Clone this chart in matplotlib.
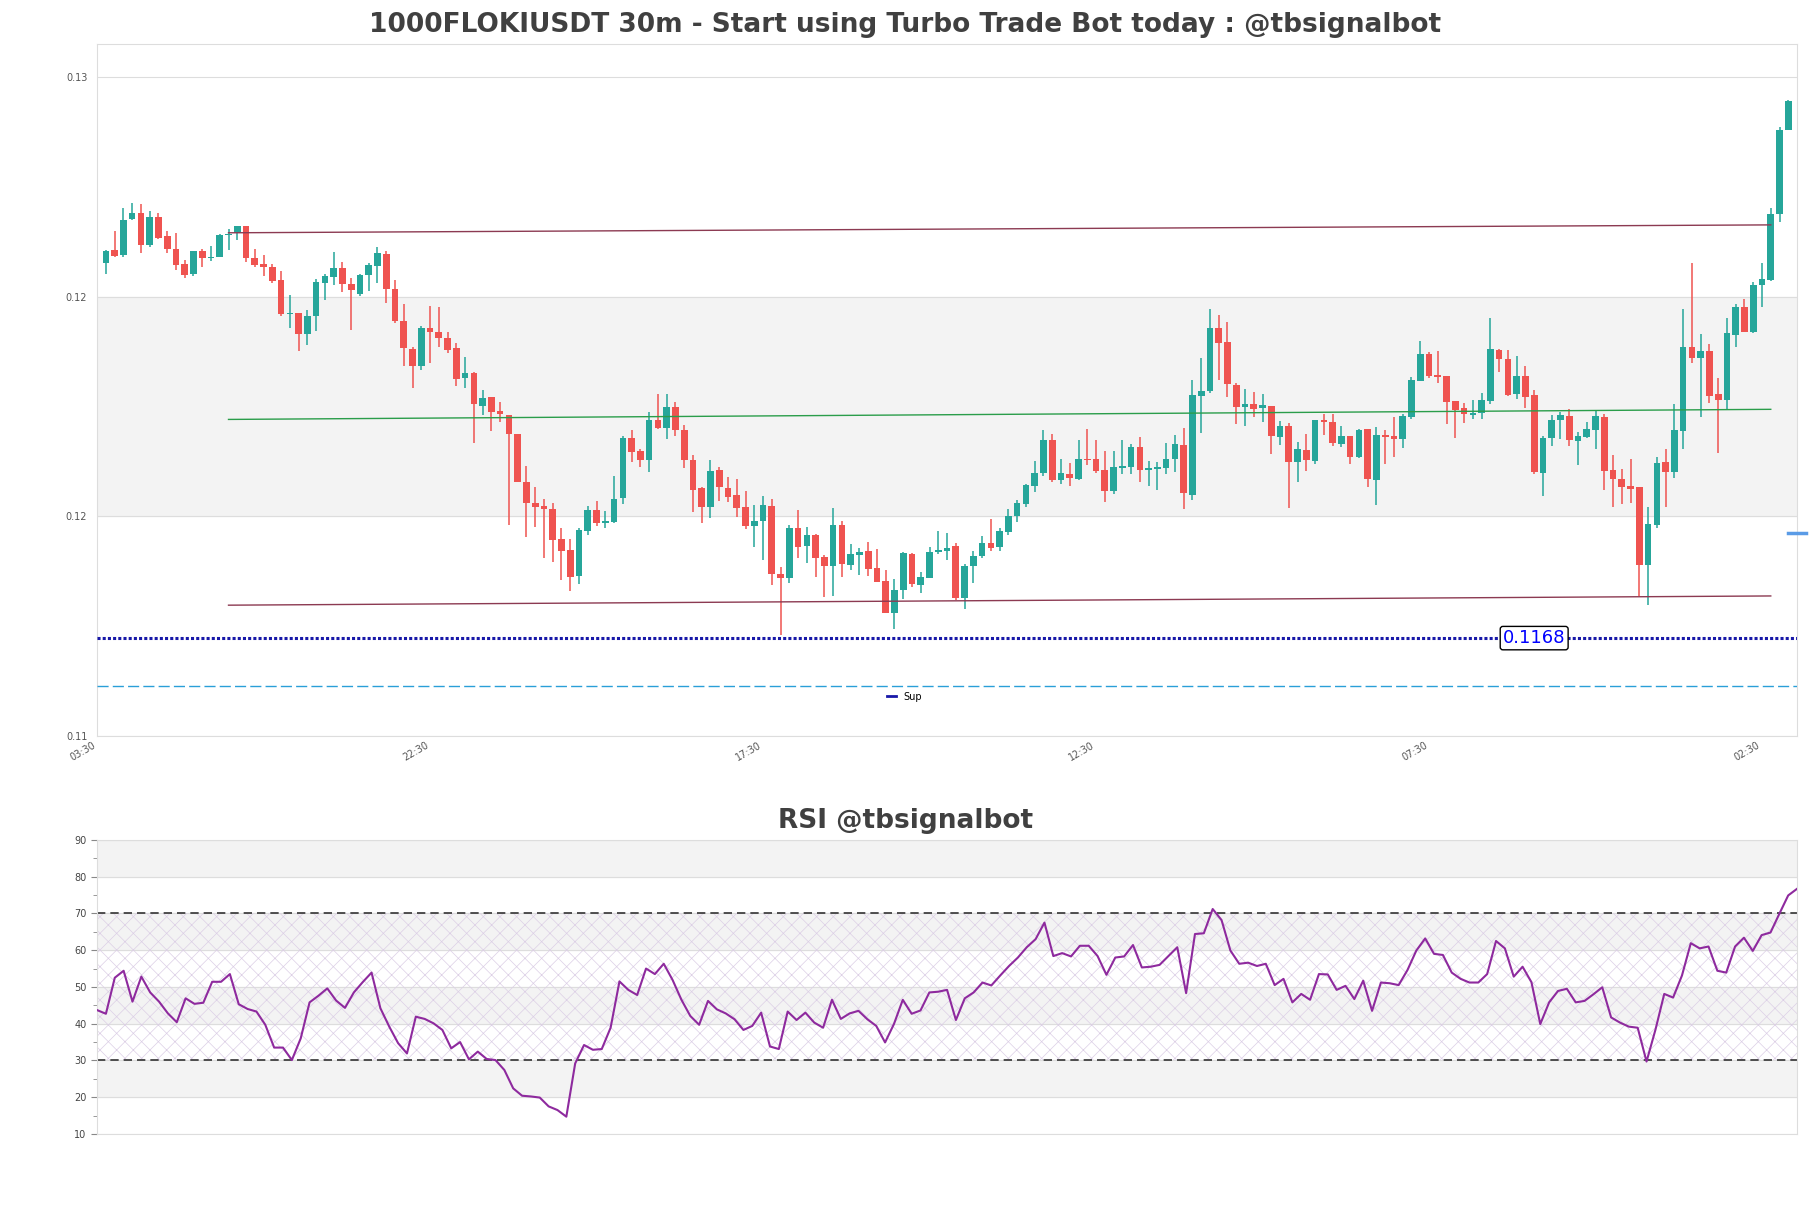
import numpy as np
import matplotlib
matplotlib.use("Agg")
import matplotlib.pyplot as plt
from matplotlib.lines import Line2D

# 30m candles (index 1..193)
opens = [
    0.12535, 0.12564, 0.12552, 0.12635, 0.12648, 0.12575, 0.12638, 0.12596, 0.12566, 0.12532,
    0.12509, 0.12562, 0.12546, 0.12549, 0.12598, 0.12602, 0.12619, 0.12545, 0.12532, 0.12524,
    0.12496, 0.12418, 0.12420, 0.12373, 0.12414, 0.12488, 0.12503, 0.12522, 0.12486, 0.12464,
    0.12507, 0.12528, 0.12555, 0.12474, 0.12403, 0.12338, 0.12300, 0.12386, 0.12377, 0.12363,
    0.12340, 0.12272, 0.12283, 0.12209, 0.12228, 0.12197, 0.12188, 0.12144, 0.12035, 0.11987,
    0.11981, 0.11973, 0.11905, 0.11881, 0.11822, 0.11925, 0.11972, 0.11943, 0.11945, 0.11998,
    0.12135, 0.12107, 0.12086, 0.12177, 0.12158, 0.12207, 0.12155, 0.12086, 0.12021, 0.11979,
    0.12063, 0.12021, 0.12006, 0.11978, 0.11935, 0.11947, 0.11981, 0.11826, 0.11818, 0.11931,
    0.11890, 0.11915, 0.11865, 0.11845, 0.11938, 0.11846, 0.11869, 0.11878, 0.11840, 0.11810,
    0.11738, 0.11790, 0.11872, 0.11802, 0.11818, 0.11875, 0.11879, 0.11890, 0.11772, 0.11845,
    0.11867, 0.11896, 0.11888, 0.11922, 0.11957, 0.11985, 0.12027, 0.12055, 0.12131, 0.12040,
    0.12054, 0.12042, 0.12088, 0.12088, 0.12063, 0.12014, 0.12068, 0.12070, 0.12116, 0.12063,
    0.12065, 0.12068, 0.12088, 0.12120, 0.12006, 0.12232, 0.12243, 0.12386, 0.12354, 0.12256,
    0.12207, 0.12213, 0.12203, 0.12209, 0.12139, 0.12163, 0.12082, 0.12108, 0.12083, 0.12177,
    0.12172, 0.12122, 0.12140, 0.12093, 0.12156, 0.12040, 0.12143, 0.12140, 0.12133, 0.12184,
    0.12266, 0.12327, 0.12279, 0.12277, 0.12220, 0.12203, 0.12188, 0.12192, 0.12221, 0.12336,
    0.12315, 0.12236, 0.12277, 0.12233, 0.12057, 0.12135, 0.12177, 0.12186, 0.12130, 0.12139,
    0.12154, 0.12184, 0.12063, 0.12043, 0.12026, 0.12023, 0.11846, 0.11938, 0.12082, 0.12058,
    0.12152, 0.12344, 0.12317, 0.12334, 0.12235, 0.12222, 0.12370, 0.12435, 0.12376, 0.12483,
    0.12496, 0.12645, 0.12836,
]
highs = [
    0.12564, 0.12607, 0.12659, 0.12670, 0.12668, 0.12653, 0.12648, 0.12606, 0.12603, 0.12541,
    0.12562, 0.12566, 0.12573, 0.12601, 0.12612, 0.12619, 0.12619, 0.12566, 0.12552, 0.12532,
    0.12516, 0.12461, 0.12421, 0.12427, 0.12497, 0.12509, 0.12560, 0.12537, 0.12499, 0.12509,
    0.12534, 0.12571, 0.12562, 0.12496, 0.12441, 0.12344, 0.12391, 0.12436, 0.12433, 0.12376,
    0.12353, 0.12320, 0.12287, 0.12245, 0.12228, 0.12218, 0.12188, 0.12144, 0.12072, 0.12024,
    0.11996, 0.11987, 0.11930, 0.11905, 0.11930, 0.11981, 0.11992, 0.11970, 0.12049, 0.12140,
    0.12154, 0.12110, 0.12194, 0.12235, 0.12236, 0.12217, 0.12165, 0.12097, 0.12025, 0.12086,
    0.12070, 0.12046, 0.12042, 0.12014, 0.11983, 0.12004, 0.11996, 0.11843, 0.11938, 0.11972,
    0.11932, 0.11917, 0.11869, 0.11976, 0.11947, 0.11894, 0.11886, 0.11898, 0.11883, 0.11835,
    0.11814, 0.11877, 0.11873, 0.11830, 0.11888, 0.11924, 0.11919, 0.11896, 0.11849, 0.11878,
    0.11913, 0.11951, 0.11930, 0.11973, 0.11995, 0.12030, 0.12084, 0.12154, 0.12144, 0.12088,
    0.12078, 0.12131, 0.12156, 0.12131, 0.12106, 0.12106, 0.12131, 0.12121, 0.12139, 0.12083,
    0.12080, 0.12125, 0.12143, 0.12159, 0.12268, 0.12317, 0.12429, 0.12416, 0.12399, 0.12262,
    0.12247, 0.12241, 0.12235, 0.12209, 0.12175, 0.12169, 0.12126, 0.12145, 0.12177, 0.12190,
    0.12190, 0.12163, 0.12140, 0.12156, 0.12156, 0.12160, 0.12154, 0.12183, 0.12190, 0.12275,
    0.12357, 0.12332, 0.12334, 0.12277, 0.12220, 0.12216, 0.12222, 0.12238, 0.12410, 0.12338,
    0.12336, 0.12322, 0.12300, 0.12245, 0.12140, 0.12188, 0.12196, 0.12202, 0.12149, 0.12173,
    0.12197, 0.12190, 0.12096, 0.12065, 0.12088, 0.12023, 0.11979, 0.12093, 0.12111, 0.12213,
    0.12430, 0.12534, 0.12373, 0.12350, 0.12272, 0.12408, 0.12440, 0.12452, 0.12490, 0.12535,
    0.12660, 0.12845, 0.12906,
]
lows = [
    0.12509, 0.12549, 0.12549, 0.12632, 0.12556, 0.12571, 0.12588, 0.12556, 0.12518, 0.12499,
    0.12505, 0.12524, 0.12539, 0.12549, 0.12564, 0.12587, 0.12537, 0.12524, 0.12505, 0.12488,
    0.12413, 0.12386, 0.12334, 0.12347, 0.12380, 0.12450, 0.12484, 0.12469, 0.12382, 0.12459,
    0.12471, 0.12488, 0.12443, 0.12398, 0.12300, 0.12250, 0.12291, 0.12306, 0.12344, 0.12329,
    0.12253, 0.12250, 0.12124, 0.12188, 0.12152, 0.12171, 0.11938, 0.12035, 0.11911, 0.11932,
    0.11863, 0.11854, 0.11812, 0.11788, 0.11803, 0.11915, 0.11935, 0.11930, 0.11941, 0.11985,
    0.12082, 0.12070, 0.12059, 0.12156, 0.12133, 0.12141, 0.12067, 0.11968, 0.11941, 0.11953,
    0.11992, 0.11991, 0.11956, 0.11928, 0.11888, 0.11858, 0.11801, 0.11687, 0.11805, 0.11863,
    0.11852, 0.11820, 0.11774, 0.11776, 0.11820, 0.11834, 0.11824, 0.11822, 0.11807, 0.11738,
    0.11701, 0.11769, 0.11797, 0.11783, 0.11816, 0.11872, 0.11858, 0.11767, 0.11746, 0.11805,
    0.11862, 0.11879, 0.11879, 0.11915, 0.11945, 0.11979, 0.12012, 0.12050, 0.12036, 0.12030,
    0.12027, 0.12040, 0.12074, 0.12055, 0.11991, 0.12008, 0.12053, 0.12053, 0.12036, 0.12027,
    0.12018, 0.12053, 0.12058, 0.11974, 0.11995, 0.12146, 0.12239, 0.12268, 0.12228, 0.12168,
    0.12164, 0.12183, 0.12171, 0.12099, 0.12120, 0.11977, 0.12036, 0.12061, 0.12076, 0.12143,
    0.12118, 0.12116, 0.12076, 0.12091, 0.12023, 0.11982, 0.12076, 0.12093, 0.12114, 0.12178,
    0.12266, 0.12273, 0.12260, 0.12167, 0.12135, 0.12169, 0.12178, 0.12178, 0.12213, 0.12287,
    0.12232, 0.12225, 0.12205, 0.12054, 0.12004, 0.12118, 0.12133, 0.12118, 0.12074, 0.12135,
    0.12111, 0.12017, 0.11979, 0.11985, 0.11987, 0.11776, 0.11755, 0.11930, 0.11979, 0.12045,
    0.12111, 0.12307, 0.12183, 0.12215, 0.12102, 0.12202, 0.12344, 0.12377, 0.12374, 0.12435,
    0.12494, 0.12628, 0.12836,
]
closes = [
    0.12562, 0.12550, 0.12632, 0.12648, 0.12575, 0.12638, 0.12591, 0.12566, 0.12530, 0.12507,
    0.12562, 0.12546, 0.12549, 0.12599, 0.12601, 0.12619, 0.12545, 0.12530, 0.12524, 0.12494,
    0.12418, 0.12421, 0.12373, 0.12414, 0.12490, 0.12505, 0.12522, 0.12487, 0.12473, 0.12507,
    0.12530, 0.12558, 0.12474, 0.12403, 0.12340, 0.12300, 0.12387, 0.12376, 0.12363, 0.12336,
    0.12270, 0.12283, 0.12212, 0.12226, 0.12196, 0.12190, 0.12144, 0.12036, 0.11987, 0.11979,
    0.11973, 0.11903, 0.11879, 0.11820, 0.11926, 0.11972, 0.11943, 0.11947, 0.11997, 0.12136,
    0.12104, 0.12086, 0.12177, 0.12158, 0.12207, 0.12154, 0.12086, 0.12017, 0.11979, 0.12061,
    0.12023, 0.12002, 0.11977, 0.11935, 0.11947, 0.11983, 0.11826, 0.11818, 0.11931, 0.11888,
    0.11915, 0.11863, 0.11845, 0.11938, 0.11849, 0.11871, 0.11876, 0.11837, 0.11807, 0.11738,
    0.11790, 0.11873, 0.11803, 0.11820, 0.11876, 0.11881, 0.11885, 0.11771, 0.11844, 0.11867,
    0.11896, 0.11886, 0.11925, 0.11958, 0.11987, 0.12029, 0.12055, 0.12131, 0.12040, 0.12055,
    0.12044, 0.12088, 0.12086, 0.12061, 0.12014, 0.12069, 0.12072, 0.12116, 0.12063, 0.12067,
    0.12069, 0.12089, 0.12122, 0.12011, 0.12234, 0.12243, 0.12386, 0.12353, 0.12259, 0.12207,
    0.12213, 0.12202, 0.12211, 0.12140, 0.12163, 0.12082, 0.12111, 0.12086, 0.12177, 0.12171,
    0.12125, 0.12140, 0.12093, 0.12154, 0.12042, 0.12143, 0.12139, 0.12133, 0.12186, 0.12268,
    0.12327, 0.12277, 0.12275, 0.12218, 0.12199, 0.12190, 0.12192, 0.12222, 0.12338, 0.12315,
    0.12234, 0.12277, 0.12228, 0.12058, 0.12136, 0.12177, 0.12188, 0.12131, 0.12141, 0.12156,
    0.12186, 0.12061, 0.12042, 0.12025, 0.12020, 0.11846, 0.11940, 0.12079, 0.12058, 0.12154,
    0.12344, 0.12317, 0.12334, 0.12232, 0.12222, 0.12374, 0.12435, 0.12378, 0.12484, 0.12498,
    0.12646, 0.12836, 0.12904,
]

rsi = [
    43.7, 42.7, 52.5, 54.4, 46.0, 52.8, 48.5, 46.0, 42.8, 40.4,
    46.9, 45.4, 45.7, 51.4, 51.4, 53.5, 45.3, 44.0, 43.3, 39.7,
    33.5, 33.5, 30.1, 36.0, 45.8, 47.6, 49.6, 46.3, 44.3, 48.5,
    51.3, 53.9, 44.2, 39.2, 34.7, 31.9, 41.9, 41.3, 40.1, 38.3,
    33.3, 35.0, 30.3, 32.4, 30.4, 30.1, 27.4, 22.4, 20.4, 20.2,
    19.9, 17.5, 16.5, 14.7, 29.2, 34.2, 32.9, 33.1, 38.9, 51.5,
    49.2, 47.8, 55.0, 53.5, 56.3, 51.9, 46.5, 42.1, 39.7, 46.2,
    43.9, 42.8, 41.2, 38.3, 39.4, 43.0, 33.8, 33.1, 43.3, 41.0,
    43.0, 40.3, 38.9, 46.5, 41.3, 42.8, 43.5, 41.2, 39.4, 34.9,
    39.9, 46.5, 42.7, 43.6, 48.5, 48.7, 49.2, 41.0, 46.9, 48.5,
    51.2, 50.4, 53.1, 55.7, 58.0, 60.8, 63.0, 67.5, 58.4, 59.2,
    58.3, 61.2, 61.2, 58.4, 53.3, 58.0, 58.3, 61.4, 55.3, 55.5,
    56.0, 58.4, 60.8, 48.3, 64.4, 64.6, 71.2, 68.2, 59.9, 56.3,
    56.6, 55.7, 56.3, 50.5, 52.2, 45.8, 48.1, 46.5, 53.5, 53.4,
    49.2, 50.3, 46.7, 51.7, 43.5, 51.2, 51.0, 50.5, 54.6, 59.9,
    63.2, 59.0, 58.7, 53.9, 52.2, 51.2, 51.2, 53.5, 62.5, 60.5,
    52.8, 55.5, 51.3, 39.9, 45.8, 48.9, 49.5, 45.8, 46.2, 48.0,
    49.9, 41.7, 40.3, 39.2, 38.9, 29.7, 38.3, 48.1, 47.1, 53.1,
    61.9, 60.5, 61.0, 54.4, 53.9, 61.0, 63.4, 59.8, 64.1, 64.8,
    69.9, 74.9, 76.7,
]

time_labels = ["03:30", "22:30", "17:30", "12:30", "07:30", "02:30"]

# levels and trend lines (start idx, start price, end idx, end price)
sup_level = 0.1168
lower_dash = 0.11571
side_mark = 0.11920
upper_line = (15, 0.12603, 191, 0.12621)
mid_line = (15, 0.12178, 191, 0.12201)
low_line = (15, 0.11755, 191, 0.11776)

y_lo, y_hi = 0.11457, 0.13033
up_col, down_col = "#26a69a", "#ef5350"
txt_col = "#404040"

plt.rcParams["hatch.linewidth"] = 0.5

fig = plt.figure(figsize=(18.11, 12.08), dpi=100)
ax = fig.add_axes([0.0536, 0.3907, 0.9387, 0.5729])
rx = fig.add_axes([0.0536, 0.0613, 0.9387, 0.2434])

# ---- price panel ----
o = np.array(opens)
h = np.array(highs)
l = np.array(lows)
c = np.array(closes)
x = np.arange(1, len(o) + 1)
cols = np.where(c >= o, up_col, down_col)

yt = y_lo + 0.005 * np.arange(4)
ax.axhspan(yt[1], yt[2], color="#f3f3f3", zorder=0)
for v in yt:
    ax.axhline(v, color="#dddddd", lw=0.8, zorder=0.5)

ax.vlines(x, l, h, colors=cols, lw=1.1, zorder=2)
body = np.maximum(np.abs(c - o), 0.00003)
ax.bar(x, body, bottom=np.minimum(o, c), width=0.76, color=cols, zorder=3)

for (x0, y0, x1, y1), col in [(upper_line, "#8c3a52"), (mid_line, "#2a9d4a"), (low_line, "#8c3a52")]:
    ax.plot([x0, x1], [y0, y1], color=col, lw=1, zorder=4)

ax.axhline(sup_level, color="#1818a8", lw=2.2, dashes=(1.0, 0.7), zorder=4)
ax.axhline(lower_dash, color="#2a9fd8", lw=1, dashes=(8, 3), zorder=4)
ax.text(164, sup_level, f"{sup_level:.4f}", color="blue", fontsize=13,
        ha="center", va="center", zorder=6,
        bbox=dict(boxstyle="round,pad=0.15", fc="white", ec="black", lw=1))
ax.plot([193, 195.0], [side_mark, side_mark], color="#5a9be6", lw=2.5, clip_on=False, zorder=5)

ax.legend([Line2D([], [], color="#1818a8", lw=2)], ["Sup"], loc="center",
          bbox_to_anchor=(0.475, 0.057), frameon=False, fontsize=7, handlelength=0.9)

ax.set_xlim(0, 194)
ax.set_ylim(y_lo, y_hi)
ax.set_yticks(yt)
ax.set_yticklabels([f"{v:.2f}" for v in yt])
ax.set_xticks(np.arange(0, 191, 38))
ax.set_xticklabels(time_labels, rotation=30, ha="right")
ax.tick_params(axis="both", length=0, labelsize=7, labelcolor="#555555")
ax.tick_params(axis="y", pad=7)
ax.tick_params(axis="x", pad=3)
for s in ax.spines.values():
    s.set_color("#dddddd")

# ---- RSI panel ----
for lo_v in range(20, 90, 20):
    rx.axhspan(lo_v, lo_v + 10, color="#f3f3f3", zorder=0)
rx.axhspan(30, 70, facecolor="none", edgecolor="#dccfe6", hatch="xx", lw=0, zorder=0.6)
for v in range(10, 91, 10):
    rx.axhline(v, color="#dddddd", lw=0.8, zorder=0.5)
rx.axhline(70, color="#333333", lw=1.2, dashes=(5, 3), zorder=2)
rx.axhline(30, color="#333333", lw=1.2, dashes=(5, 3), zorder=2)
xr = np.arange(1, len(rsi) + 1)
rx.plot(xr, rsi, color="#8e2a9e", lw=1.5, zorder=3)

rx.set_xlim(1, len(rsi))
rx.set_ylim(10, 90)
rx.set_xticks([])
rx.set_yticks(range(10, 91, 10))
rx.set_yticks(range(15, 90, 10), minor=True)
rx.tick_params(axis="y", which="major", length=4, labelsize=7, labelcolor="#444444", color="#888888")
rx.tick_params(axis="y", which="minor", length=3, color="#888888")
for s in rx.spines.values():
    s.set_color("#dddddd")

fig.text(0.5, 0.979, "1000FLOKIUSDT 30m - Start using Turbo Trade Bot today : @tbsignalbot",
         ha="center", va="center", fontsize=19, fontweight="bold", color=txt_col)
fig.text(0.5, 0.3205, "RSI @tbsignalbot", ha="center", va="center",
         fontsize=19, fontweight="bold", color=txt_col)

fig.savefig("out.png", dpi=100)
